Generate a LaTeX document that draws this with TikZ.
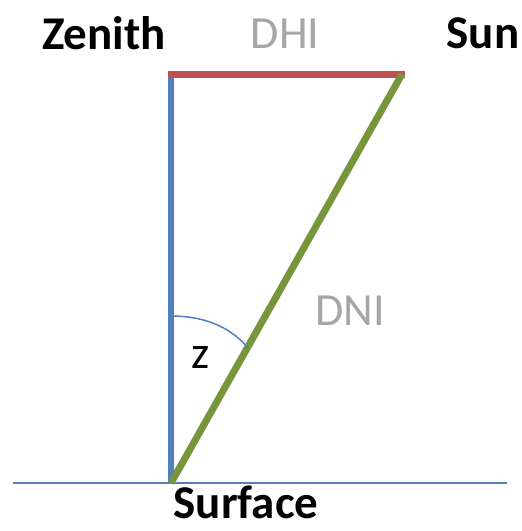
\documentclass[tikz,border=0pt]{standalone}
\usepackage{fontspec}
\setmainfont{Carlito}
\definecolor{lred}{HTML}{C0504D}
\definecolor{lblue}{HTML}{4F81BD}
\definecolor{lgreen}{HTML}{77963C}
\definecolor{lgray}{HTML}{A6A6A6}
\begin{document}
\begin{tikzpicture}[x=1pt,y=-1pt,
  lab/.style={inner sep=0pt,anchor=base,font=\fontsize{46}{50}\selectfont},
  boldlab/.style={lab,font=\fontsize{47}{50}\selectfont\bfseries},
  graylab/.style={lab,text=lgray}]
\useasboundingbox (0,0) rectangle (522,531);
\fill[white] (0,0) rectangle (522,531);
% key points
\coordinate (zen) at (171,74);
\coordinate (zentop) at (171,71);
\coordinate (redstart) at (168,74);
\coordinate (sun) at (402,74);
\coordinate (redend) at (405,74);
\coordinate (surf) at (171,483);
\coordinate (baseL) at (13,483);
\coordinate (baseR) at (507,483);
\coordinate (arcA) at (171,316);
\coordinate (arcB) at (248,348);
% ground line
\draw[lblue,line width=1.8pt] (baseL) -- (baseR);
% zenith line
\draw[lblue,line width=6pt] (zentop) -- (surf);
% DHI line
\draw[lred,line width=7pt] (redstart) -- (redend);
% DNI line
\draw[lgreen,line width=7pt] (sun) -- (surf);
% angle arc
\draw[lblue,line width=1.5pt] (arcA) .. controls (210,316) and (234,331) .. (arcB);
% labels
\node[boldlab] (tZenith) at (104,49) {Zenith};
\node[graylab] (tDHI) at (285,48) {DHI};
\node[boldlab] (tSun) at (483,48) {Sun};
\node[graylab] (tDNI) at (350,325) {DNI};
\node[lab] (tz) at (201,368) {z};
\node[boldlab] (tSurface) at (246,518) {Surface};
\end{tikzpicture}
\end{document}
